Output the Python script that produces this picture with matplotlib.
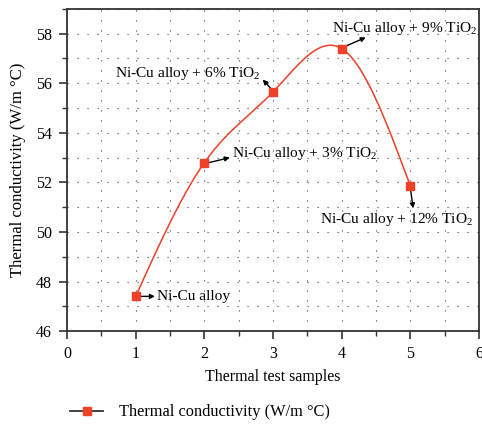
import numpy as np
import matplotlib.pyplot as plt
from matplotlib.lines import Line2D
from matplotlib.ticker import MultipleLocator

plt.rcParams['font.family'] = ['Liberation Serif', 'DejaVu Serif']
plt.rcParams['mathtext.fontset'] = 'custom'
plt.rcParams['mathtext.rm'] = 'Liberation Serif'

samples = [1, 2, 3, 4, 5]
conductivity = [47.4, 52.8, 55.65, 57.4, 51.85]
labels = ["Ni-Cu alloy",
          r"Ni-Cu alloy + 3% TiO$_2$",
          r"Ni-Cu alloy + 6% TiO$_2$",
          r"Ni-Cu alloy + 9% TiO$_2$",
          r"Ni-Cu alloy + 12% TiO$_2$"]


def natural_spline(x, y, n=300):
    x = np.asarray(x, float)
    y = np.asarray(y, float)
    k = len(x)
    h = np.diff(x)
    A = np.zeros((k, k))
    b = np.zeros(k)
    A[0, 0] = A[-1, -1] = 1
    for i in range(1, k - 1):
        A[i, i - 1] = h[i - 1]
        A[i, i] = 2 * (h[i - 1] + h[i])
        A[i, i + 1] = h[i]
        b[i] = 6 * ((y[i + 1] - y[i]) / h[i] - (y[i] - y[i - 1]) / h[i - 1])
    m = np.linalg.solve(A, b)
    xs = np.linspace(x[0], x[-1], n)
    idx = np.clip(np.searchsorted(x, xs) - 1, 0, k - 2)
    x0, x1 = x[idx], x[idx + 1]
    hh = x1 - x0
    t0, t1 = x1 - xs, xs - x0
    ys = (m[idx] * t0 ** 3 / (6 * hh) + m[idx + 1] * t1 ** 3 / (6 * hh)
          + (y[idx] / hh - m[idx] * hh / 6) * t0
          + (y[idx + 1] / hh - m[idx + 1] * hh / 6) * t1)
    return xs, ys


fig = plt.figure(figsize=(4.82, 4.25), dpi=100)
ax = fig.add_axes([0.139, 0.221, 0.855, 0.758])

red = '#ee4127'
xs, ys = natural_spline(samples, conductivity)
ax.plot(xs, ys, color=red, lw=1.1, zorder=3)
ax.plot(samples, conductivity, 's', color=red, ms=6, zorder=4)

ax.set_xlim(0, 6)
ax.set_ylim(46, 59)
ax.xaxis.set_major_locator(MultipleLocator(1))
ax.xaxis.set_minor_locator(MultipleLocator(0.5))
ax.yaxis.set_major_locator(MultipleLocator(2))
ax.yaxis.set_minor_locator(MultipleLocator(1))
ax.grid(which='both', color='#444444', lw=0.8, ls=(0, (1, 8)))
ax.tick_params(which='major', direction='out', length=6, width=1.2,
               labelsize=11.5, color='#333333', pad=5)
ax.tick_params(which='minor', direction='out', length=3.5, width=1.0,
               color='#333333')
for s in ax.spines.values():
    s.set_linewidth(1.3)
    s.set_color('#333333')

ax.set_xlabel("Thermal test samples", fontsize=11.5, labelpad=5)
ax.set_ylabel("Thermal conductivity (W/m °C)", fontsize=12, labelpad=7)

arrow = dict(arrowstyle='-|>', color='black', lw=1.0, mutation_scale=7,
             shrinkA=0, shrinkB=0)
fs = 11.1
ax.annotate(labels[0], xy=(1.3, 47.4), xytext=(1.31, 47.4),
            fontsize=fs, va='center', ha='left')
ax.annotate("", xy=(1.28, 47.4), xytext=(1.06, 47.4), arrowprops=arrow)
ax.annotate(labels[1], xy=(2.4, 53.15), xytext=(2.4, 53.15),
            fontsize=fs, va='center', ha='left')
ax.annotate("", xy=(2.37, 53.0), xytext=(2.07, 52.8), arrowprops=arrow)
ax.annotate(labels[2], xy=(0.7, 56.4), xytext=(0.7, 56.4),
            fontsize=fs, va='center', ha='left')
ax.annotate("", xy=(2.85, 56.15), xytext=(2.98, 55.75), arrowprops=arrow)
ax.annotate(labels[3], xy=(3.86, 58.2), xytext=(3.86, 58.2),
            fontsize=fs, va='center', ha='left')
ax.annotate("", xy=(4.35, 57.85), xytext=(4.06, 57.5), arrowprops=arrow)
ax.annotate(labels[4], xy=(3.68, 50.5), xytext=(3.68, 50.5),
            fontsize=fs, va='center', ha='left')
ax.annotate("", xy=(5.04, 50.95), xytext=(5.0, 51.75), arrowprops=arrow)

handle = Line2D([], [], color='#333333', lw=1.3, marker='s', ms=6,
                markerfacecolor=red, markeredgecolor=red)
fig.legend([handle], ["Thermal conductivity (W/m °C)"], loc='center left',
           bbox_to_anchor=(0.115, 0.03), frameon=False, fontsize=11.8,
           handlelength=2.0, handletextpad=1.0)

fig.savefig('out.png', dpi=100)
